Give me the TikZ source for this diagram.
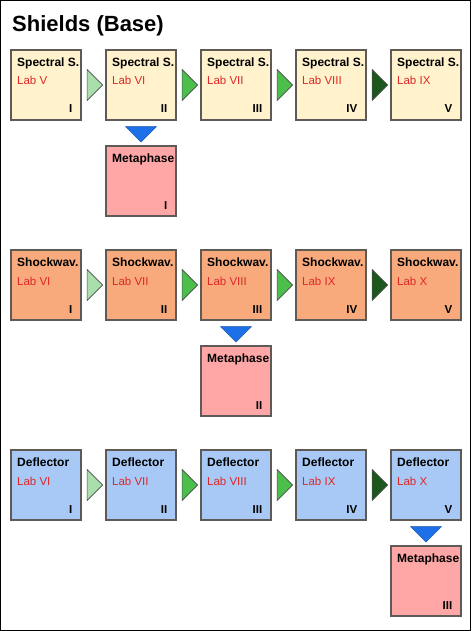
\documentclass[tikz,border=0pt]{standalone}
\usepackage{fontspec}
\setmainfont{Liberation Sans}
\usetikzlibrary{shapes.geometric,positioning}
\definecolor{specfill}{RGB}{255,242,204}
\definecolor{shockfill}{RGB}{248,170,125}
\definecolor{deflfill}{RGB}{168,200,245}
\definecolor{metafill}{RGB}{255,166,166}
\definecolor{boxline}{RGB}{95,90,85}
\definecolor{labred}{RGB}{222,40,40}
\definecolor{grnlight}{RGB}{170,222,170}
\definecolor{grnmid}{RGB}{76,190,76}
\definecolor{grndark}{RGB}{28,88,30}
\definecolor{downblue}{RGB}{30,112,232}

\begin{document}
\begin{tikzpicture}[x=1pt,y=-1pt,node distance=26pt and 25pt,
  box/.style n args={3}{draw=boxline,line width=1.2pt,minimum size=70pt,
                 inner sep=0pt,outer sep=0pt,
                 label={[boxtitle]north west:#1},label={[boxlab]north west:#2},
                 label={[boxnum]south east:#3}},
  spec/.style n args={3}{box={#1}{#2}{#3},fill=specfill},
  shock/.style n args={3}{box={#1}{#2}{#3},fill=shockfill},
  defl/.style n args={3}{box={#1}{#2}{#3},fill=deflfill},
  meta/.style={box={Metaphase}{}{#1},fill=metafill},
  boxtitle/.style={anchor=base west,inner sep=0pt,xshift=6pt,yshift=-16.5pt,
                   font=\fontsize{12}{14}\selectfont\bfseries},
  boxlab/.style={anchor=base west,inner sep=0pt,xshift=6pt,yshift=-35pt,
                 text=labred,font=\fontsize{11.5}{14}\selectfont},
  boxnum/.style={anchor=base east,inner sep=0pt,xshift=-8.5pt,yshift=7pt,
                 font=\fontsize{11.5}{14}\selectfont\bfseries},
  tri/.style={isosceles triangle,isosceles triangle stretches,inner sep=0pt,
              shape border rotate=-90,minimum width=31pt,minimum height=15.5pt},
  fwd/.style={tri,rotate=90,draw=black!70,line width=0.6pt,fill=#1},
  down/.style={tri,draw=downblue!70!black,line width=0.4pt,fill=downblue},
  heading/.style={anchor=base west,inner sep=0pt,font=\fontsize{22}{26}\selectfont\bfseries}]
  \useasboundingbox (0,0) rectangle (471,631);
  \fill[white] (0,0) rectangle (471,631);
  \draw[line width=1pt] (0.5,0.5) rectangle (470.5,630.5);
  \node[heading] (title) at (12,32) {Shields (Base)};

  % Spectral S.
  \node[spec={Spectral S.}{Lab V}{I}] (s1) at (46,85) {};
  \node[spec={Spectral S.}{Lab VI}{II},right=of s1]   (s2) {};
  \node[spec={Spectral S.}{Lab VII}{III},right=of s2] (s3) {};
  \node[spec={Spectral S.}{Lab VIII}{IV},right=of s3] (s4) {};
  \node[spec={Spectral S.}{Lab IX}{V},right=of s4]    (s5) {};
  \node[meta={I},below=of s2] (m1) {};
  \path (s1) -- node[fwd=grnlight] (s12) {} (s2);
  \path (s2) -- node[fwd=grnmid]   (s23) {} (s3);
  \path (s3) -- node[fwd=grnmid]   (s34) {} (s4);
  \path (s4) -- node[fwd=grndark]  (s45) {} (s5);
  \path (s2) -- node[down] (sm) {} (m1);

  % Shockwav.
  \node[shock={Shockwav.}{Lab VI}{I}] (k1) at (46,285) {};
  \node[shock={Shockwav.}{Lab VII}{II},right=of k1]   (k2) {};
  \node[shock={Shockwav.}{Lab VIII}{III},right=of k2] (k3) {};
  \node[shock={Shockwav.}{Lab IX}{IV},right=of k3]    (k4) {};
  \node[shock={Shockwav.}{Lab X}{V},right=of k4]      (k5) {};
  \node[meta={II},below=of k3] (m2) {};
  \path (k1) -- node[fwd=grnlight] (k12) {} (k2);
  \path (k2) -- node[fwd=grnmid]   (k23) {} (k3);
  \path (k3) -- node[fwd=grnmid]   (k34) {} (k4);
  \path (k4) -- node[fwd=grndark]  (k45) {} (k5);
  \path (k3) -- node[down] (km) {} (m2);

  % Deflector
  \node[defl={Deflector}{Lab VI}{I}] (d1) at (46,485) {};
  \node[defl={Deflector}{Lab VII}{II},right=of d1]   (d2) {};
  \node[defl={Deflector}{Lab VIII}{III},right=of d2] (d3) {};
  \node[defl={Deflector}{Lab IX}{IV},right=of d3]    (d4) {};
  \node[defl={Deflector}{Lab X}{V},right=of d4]      (d5) {};
  \node[meta={III},below=of d5] (m3) {};
  \path (d1) -- node[fwd=grnlight] (d12) {} (d2);
  \path (d2) -- node[fwd=grnmid]   (d23) {} (d3);
  \path (d3) -- node[fwd=grnmid]   (d34) {} (d4);
  \path (d4) -- node[fwd=grndark]  (d45) {} (d5);
  \path (d5) -- node[down] (dm) {} (m3);
\end{tikzpicture}
\end{document}
